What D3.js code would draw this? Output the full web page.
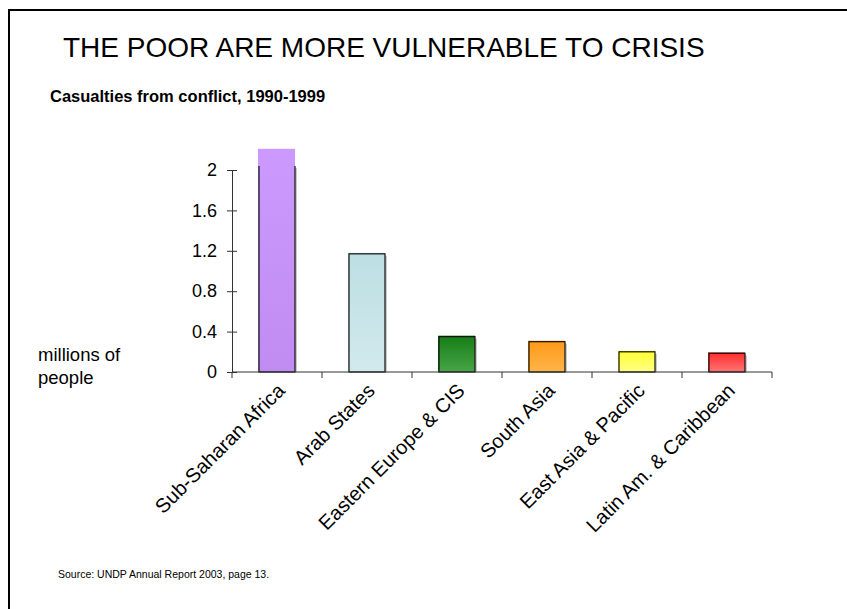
<!DOCTYPE html>
<html><head><meta charset="utf-8">
<script src="https://cdn.jsdelivr.net/npm/d3@7"></script>
<style>
html,body{margin:0;padding:0;background:#fff;}
svg{display:block;font-family:"Liberation Sans",Arial,sans-serif;}
</style></head>
<body>
<svg id="chart" width="847" height="609"></svg>
<script>
const categories = ["Sub-Saharan Africa","Arab States","Eastern Europe & CIS","South Asia","East Asia & Pacific","Latin Am. & Caribbean"];
const values = [2.2, 1.17, 0.35, 0.3, 0.2, 0.185];
const colorsTop = ["#cc99ff","#bcdfe3","#167f16","#ff9a1a","#ffff33","#ff2f2f"];
const colorsBottom = ["#c08cf2","#d2e9ec","#48a448","#ffb54a","#ffff88","#ff7474"];
const yTicks = [0, 0.4, 0.8, 1.2, 1.6, 2];
const titleText = "THE POOR ARE MORE VULNERABLE TO CRISIS";
const subtitleText = "Casualties from conflict, 1990-1999";
const yLabelLines = ["millions of","people"];
const sourceText = "Source: UNDP Annual Report 2003, page 13.";

const svg = d3.select("#chart");
svg.append("rect").attr("x",9).attr("y",10).attr("width",900).attr("height",700)
  .attr("fill","none").attr("stroke","#000").attr("stroke-width",2);

svg.append("text").attr("x",63).attr("y",57).attr("font-size",28).text(titleText);
svg.append("text").attr("x",50).attr("y",102).attr("font-size",16.5).attr("font-weight","bold").text(subtitleText);

const x = d3.scaleBand().domain(categories).range([232,772]).paddingInner(0).paddingOuter(0);
const y = d3.scaleLinear().domain([0,2]).range([372,170]);

const defs = svg.append("defs");
categories.forEach((c,i)=>{
  const g = defs.append("linearGradient").attr("id","g"+i).attr("x1",0).attr("y1",0).attr("x2",0).attr("y2",1);
  g.append("stop").attr("offset","0%").attr("stop-color",colorsTop[i]);
  g.append("stop").attr("offset","100%").attr("stop-color",colorsBottom[i]);
});
defs.append("clipPath").attr("id","plotclip").append("rect")
  .attr("x",232).attr("y",y(2.04)).attr("width",540).attr("height",372-y(2.04)+2);

const bw = x.bandwidth()*0.4;
const bars = svg.append("g");
categories.forEach((c,i)=>{
  const bx = x(c) + (x.bandwidth()-bw)/2;
  const by = y(values[i]);
  bars.append("rect").attr("x",bx+2).attr("y",Math.max(by, y(2.04))+2).attr("width",bw).attr("height",y(0)-Math.max(by,y(2.04))-2)
    .attr("fill","#999").attr("opacity",0.5).attr("clip-path","url(#plotclip)");
  bars.append("rect").attr("x",bx-1).attr("y",by-1).attr("width",bw+1).attr("height",y(0)-by+1)
    .attr("fill",colorsTop[i]);
  bars.append("rect").attr("x",bx).attr("y",by).attr("width",bw).attr("height",y(0)-by)
    .attr("fill","url(#g"+i+")");
  bars.append("rect").attr("x",bx).attr("y",by).attr("width",bw).attr("height",y(0)-by)
    .attr("fill","none").attr("stroke","#111").attr("stroke-width",1.2).attr("clip-path","url(#plotclip)");
});

const yAxis = d3.axisLeft(y).tickValues(yTicks).tickFormat(d=>d3.format("")(d)).tickSize(5).tickSizeOuter(0).tickPadding(10);
const ya = svg.append("g").attr("transform","translate(232,0)").call(yAxis);
ya.select(".domain").attr("stroke","#333");
ya.selectAll(".tick line").attr("x2",-5).attr("x1",5).attr("stroke","#333");
ya.selectAll(".tick text").attr("font-size",18).attr("font-family","Liberation Sans, Arial, sans-serif").attr("fill","#000");

const xa = svg.append("g").attr("transform","translate(0,372)");
xa.append("line").attr("x1",232).attr("x2",772).attr("y1",0).attr("y2",0).attr("stroke","#333");
const tickPos = categories.map(c=>x(c)).concat([x(categories[categories.length-1])+x.bandwidth()]);
xa.selectAll("line.t").data(tickPos).join("line").attr("class","t")
  .attr("x1",d=>d).attr("x2",d=>d).attr("y1",0).attr("y2",6).attr("stroke","#333");
xa.selectAll("text").data(categories).join("text")
  .attr("transform",d=>`translate(${x(d)+x.bandwidth()/2+9},${20}) rotate(-45)`)
  .attr("text-anchor","end").attr("font-size",20).attr("fill","#000").text(d=>d);

svg.append("text").attr("x",38).attr("y",361).attr("font-size",18.5)
  .selectAll("tspan").data(yLabelLines).join("tspan").attr("x",38).attr("dy",(d,i)=>i?23:0).text(d=>d);

svg.append("text").attr("x",58).attr("y",578).attr("font-size",10.5).text(sourceText);
</script>
</body></html>
